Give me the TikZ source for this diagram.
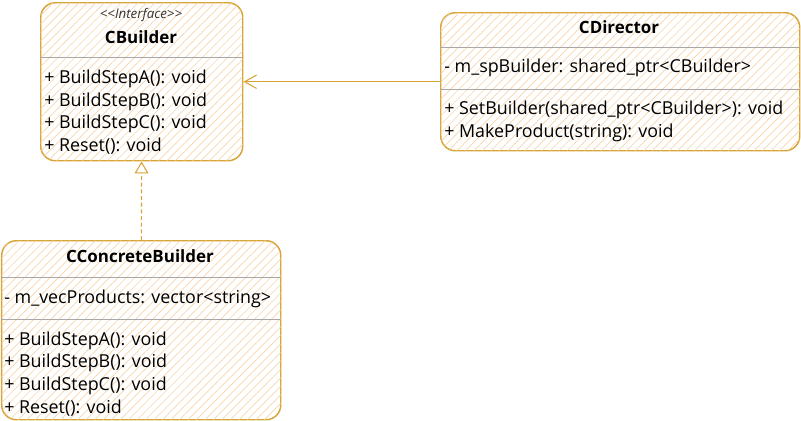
\documentclass[tikz,border=0pt]{standalone}
\usepackage{fontspec}
\setmainfont{Open Sans}[Ligatures=TeXOff]
\usetikzlibrary{positioning,arrows.meta,patterns.meta,calc}

\definecolor{umlborder}{HTML}{D8A435}
\definecolor{umlhatch}{HTML}{F8D5AC}
\definecolor{umlrule}{HTML}{A8A8A8}

\tikzset{
  classbox/.style={draw=umlborder, line width=1.1pt, rounded corners=11pt,
    fill=white, postaction={pattern={Lines[angle=45,distance=4.5pt,line width=0.5pt]}, pattern color=umlhatch},
    inner sep=0pt, anchor=north west},
  classname/.style={font=\bfseries\fontsize{12.7}{14}\selectfont, inner sep=0pt},
  stereo/.style={font=\itshape\fontsize{10}{11}\selectfont, text=black!80, inner sep=0pt},
  member/.style={font=\fontsize{13.4}{15}\selectfont, anchor=west, inner sep=0pt},
  divider/.style={umlrule, line width=0.5pt},
  assoc/.style={umlborder, line width=0.8pt, -{Straight Barb[length=9pt,width=10pt]}},
  realize/.style={umlborder, line width=0.8pt, dash pattern=on 3pt off 2pt,
    -{Triangle[open,fill=white,length=9pt,width=10.5pt]}},
}

\begin{document}
\begin{tikzpicture}[x=0.75pt,y=-0.75pt]
\useasboundingbox (0,0) rectangle (801,421);

% class boxes
\node[classbox,minimum width=151.5pt,minimum height=118.5pt] (builder) at (40,2) {};
\node[classbox,minimum width=269.25pt,minimum height=103.5pt] (director) at (440,12) {};
\node[classbox,minimum width=209.25pt,minimum height=134.25pt] (concrete) at (1,240) {};

% CBuilder
\node[stereo] (builder-stereo) at (141,15) {<<Interface>>};
\node[classname] (builder-name) at (141,37) {CBuilder};
\draw[divider] (40,57) -- (242,57);
\foreach \m [count=\i] in {BuildStepA(): void,BuildStepB(): void,BuildStepC(): void,Reset(): void}
	\node[member] (builder-m\i) at (44,{79+22.5*(\i-1)}) {+ \m};

% CDirector
\node[classname] (director-name) at (619,27) {CDirector};
\draw[divider] (440,47) -- (799,47);
\node[member] (director-a1) at (444,68) {- m\_spBuilder: shared\_ptr<CBuilder>};
\draw[divider] (440,89) -- (799,89);
\node[member] (director-m1) at (444,110) {+ SetBuilder(shared\_ptr<CBuilder>): void};
\node[member] (director-m2) at (444,133) {+ MakeProduct(string): void};

% CConcreteBuilder
\node[classname] (concrete-name) at (140,256) {CConcreteBuilder};
\draw[divider] (1,277) -- (280,277);
\node[member] (concrete-a1) at (4,299) {- m\_vecProducts: vector<string>};
\draw[divider] (1,319) -- (280,319);
\foreach \m [count=\i] in {BuildStepA(): void,BuildStepB(): void,BuildStepC(): void,Reset(): void}
	\node[member] (concrete-m\i) at (4,{341+22.3*(\i-1)}) {+ \m};

% relations
\draw[assoc] (director) -- (builder);
\draw[realize] (concrete) -- (builder);
\end{tikzpicture}
\end{document}
